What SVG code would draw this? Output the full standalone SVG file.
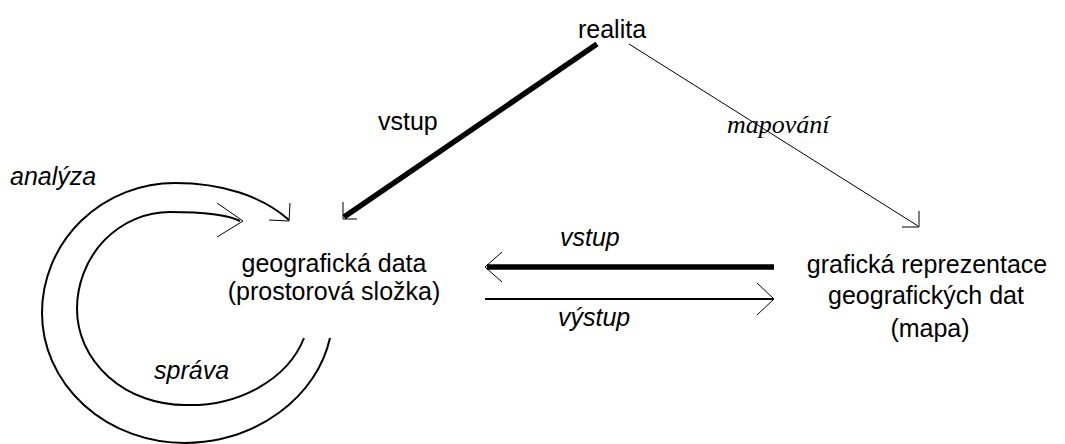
<svg xmlns="http://www.w3.org/2000/svg" width="1065" height="444" viewBox="0 0 1065 444">
<style>
.t{font-family:"Liberation Sans",Arial,sans-serif;font-size:25px;fill:#000}
.i{font-style:italic}
.s{font-family:"Liberation Serif","Times New Roman",serif;font-style:italic;font-size:26px;fill:#000}
.ln{fill:none;stroke:#000;stroke-linecap:butt}
.thin{stroke-width:1}
.mid{stroke-width:2}
.thick{stroke-width:5.5}
</style>
<rect width="1065" height="444" fill="#fff"/>
<g id="connectors">
  <!-- realita -> geograficka data (vstup, thick) -->
  <line class="ln thick" x1="597" y1="44" x2="344" y2="217"/>
  <polyline class="ln thin" points="343,202 343,219 357,219"/>
  <!-- realita -> graficka reprezentace (mapovani, thin) -->
  <line class="ln thin" x1="629" y1="44" x2="918" y2="226"/>
  <polyline class="ln thin" points="902,227 919,227 919,211"/>
  <!-- vstup horizontal thick -->
  <line class="ln thick" x1="487" y1="267" x2="774" y2="267"/>
  <polyline class="ln thin" points="502,252 485,267 502,282"/>
  <!-- vystup horizontal thin -->
  <line class="ln mid" x1="485" y1="299" x2="773" y2="299"/>
  <polyline class="ln thin" points="757,283 774,299 757,315"/>
  <!-- analyza outer loop -->
  <path class="ln mid" d="M 289 220 C 262 196, 222 183, 175 183 A 133 130 0 0 0 42 313 A 143 130 0 0 0 185 443 A 150 130 0 0 0 330 338"/>
  <polyline class="ln thin" points="269,220 289,221 290,203"/>
  <!-- sprava inner loop -->
  <path class="ln mid" d="M 240 221 C 226 214, 200 212, 170 212 A 93 97 0 0 0 77 309 A 108 96 0 0 0 185 405 A 120 96 0 0 0 304 338"/>
  <polyline class="ln thin" points="217,203 243,221 217,237"/>
</g>
<g id="realita"><text class="t" x="612" y="38" text-anchor="middle" font-size="26">realita</text></g>
<g id="geograficka-data">
  <text class="t" x="334" y="272" text-anchor="middle">geografická data</text>
  <text class="t" x="334" y="300" text-anchor="middle">(prostorová složka)</text>
</g>
<g id="graficka-reprezentace">
  <text class="t" x="927" y="273" text-anchor="middle">grafická reprezentace</text>
  <text class="t" x="926" y="304" text-anchor="middle">geografických dat</text>
  <text class="t" x="930" y="337" text-anchor="middle">(mapa)</text>
</g>
<g id="labels">
  <text class="t" x="378" y="130">vstup</text>
  <text class="s" x="727" y="133">mapování</text>
  <text class="t i" x="560" y="246">vstup</text>
  <text class="t i" x="558" y="326">výstup</text>
  <text class="t i" x="10" y="185">analýza</text>
  <text class="t i" x="154" y="379">správa</text>
</g>
</svg>
